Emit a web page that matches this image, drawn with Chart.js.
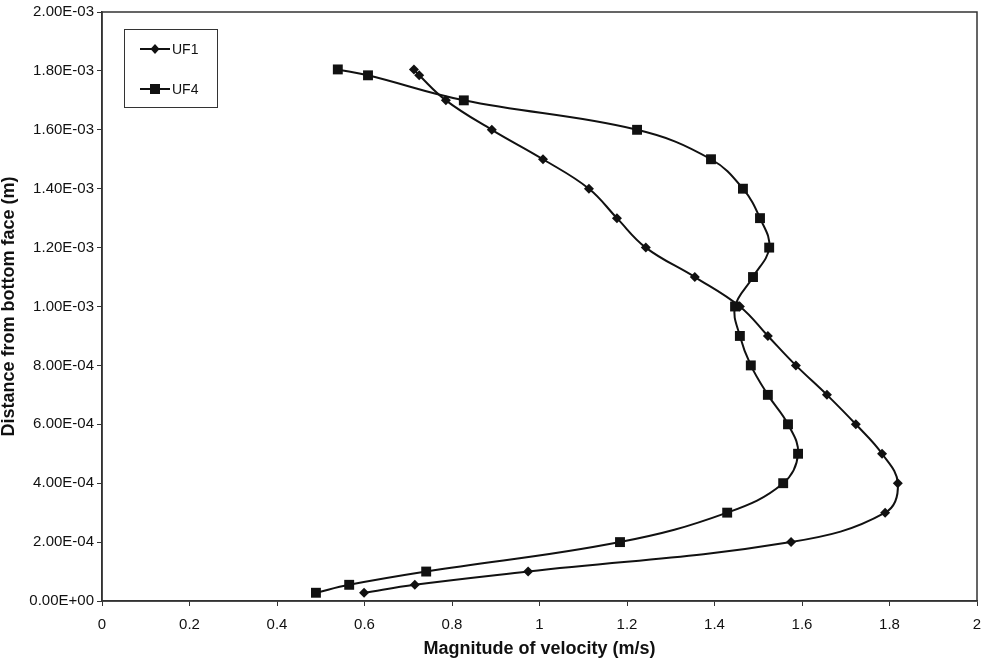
<!DOCTYPE html>
<html lang="en">
<head>
    <meta charset="UTF-8">
    <title>Velocity profile UF1 / UF4</title>
    <script src="https://cdn.jsdelivr.net/npm/chart.js"></script>
    <style>
        body {
            margin: 0;
            background: white;
        }
    </style>
</head>
<body>
    <canvas id="profileChart" width="985" height="668"></canvas>

    <script>
        // distance from bottom face (m), shared by both series
        const depth = [0.028e-3, 0.055e-3, 0.1e-3, 0.2e-3, 0.3e-3, 0.4e-3, 0.5e-3, 0.6e-3, 0.7e-3,
            0.8e-3, 0.9e-3, 1.0e-3, 1.1e-3, 1.2e-3, 1.3e-3, 1.4e-3, 1.5e-3, 1.6e-3, 1.7e-3,
            1.785e-3, 1.805e-3];
        // magnitude of velocity (m/s)
        const uf1 = [0.599, 0.715, 0.974, 1.575, 1.790, 1.819, 1.783, 1.723, 1.657, 1.586, 1.522,
            1.458, 1.355, 1.243, 1.177, 1.113, 1.008, 0.891, 0.786, 0.725, 0.713];
        const uf4 = [0.489, 0.565, 0.741, 1.184, 1.429, 1.557, 1.591, 1.568, 1.522, 1.483, 1.458,
            1.447, 1.488, 1.525, 1.504, 1.465, 1.392, 1.223, 0.827, 0.608, 0.539];
        const seriesNames = ['UF1', 'UF4'];

        const font = "'Liberation Sans', Arial, sans-serif";

        function toPoints(xs) {
            return xs.map((v, i) => ({ x: v, y: depth[i] }));
        }

        // Excel style: 2.00E-03, 0.00E+00
        function sciLabel(v) {
            if (Math.abs(v) < 1e-12) return '0.00E+00';
            let [m, e] = v.toExponential(2).toUpperCase().split('E');
            let sign = e[0] === '-' ? '-' : '+';
            let digits = e.replace(/[+-]/, '').padStart(2, '0');
            return m + 'E' + sign + digits;
        }

        function drawMarker(ctx, style, x, y) {
            ctx.beginPath();
            if (style === 'rect') {
                ctx.rect(x - 5, y - 5, 10, 10);
            } else {
                ctx.moveTo(x, y - 5);
                ctx.lineTo(x + 4.5, y);
                ctx.lineTo(x, y + 5);
                ctx.lineTo(x - 4.5, y);
                ctx.closePath();
            }
            ctx.fill();
        }

        // boxed legend inside the plot + frame around the plot area
        const frameAndLegend = {
            id: 'frameAndLegend',
            afterDraw(chart) {
                const ctx = chart.ctx;
                const a = chart.chartArea;
                ctx.save();
                ctx.strokeStyle = '#333';
                ctx.lineWidth = 1.5;
                ctx.strokeRect(a.left, a.top, a.right - a.left, a.bottom - a.top);

                ctx.lineWidth = 1;
                ctx.strokeRect(124.5, 29.5, 93, 78);
                ctx.font = '14px ' + font;
                ctx.textBaseline = 'middle';
                ctx.fillStyle = '#111';
                const rows = [49, 89];
                chart.data.datasets.forEach((ds, i) => {
                    const y = rows[i];
                    ctx.strokeStyle = '#111';
                    ctx.lineWidth = 2;
                    ctx.beginPath();
                    ctx.moveTo(140, y);
                    ctx.lineTo(170, y);
                    ctx.stroke();
                    drawMarker(ctx, ds.pointStyle, 155, y);
                    ctx.fillText(ds.label, 172, y + 1);
                });
                ctx.restore();
            }
        };

        const ctx = document.getElementById('profileChart').getContext('2d');
        new Chart(ctx, {
            type: 'scatter',
            data: {
                datasets: [{
                    label: seriesNames[0],
                    data: toPoints(uf1),
                    showLine: true,
                    tension: 0.4,
                    borderColor: '#111',
                    backgroundColor: '#111',
                    borderWidth: 2,
                    pointStyle: 'rectRot',
                    pointRadius: 5,
                    pointBorderWidth: 0
                }, {
                    label: seriesNames[1],
                    data: toPoints(uf4),
                    showLine: true,
                    tension: 0.4,
                    borderColor: '#111',
                    backgroundColor: '#111',
                    borderWidth: 2,
                    pointStyle: 'rect',
                    pointRadius: 7,
                    pointBorderWidth: 0
                }]
            },
            options: {
                responsive: false,
                animation: false,
                layout: { padding: { top: 10, right: 0, left: 0, bottom: 0 } },
                plugins: {
                    legend: { display: false },
                    tooltip: { enabled: false }
                },
                scales: {
                    x: {
                        type: 'linear',
                        min: 0,
                        max: 2,
                        afterFit: s => { s.height = 67; s.paddingRight = 8; },
                        ticks: {
                            stepSize: 0.2,
                            padding: 10,
                            color: '#111',
                            font: { family: font, size: 15 },
                            callback: v => String(Math.round(v * 10) / 10)
                        },
                        grid: { drawOnChartArea: false, tickLength: 5, color: '#333' },
                        border: { color: '#333', width: 1.5 },
                        title: {
                            display: true,
                            text: 'Magnitude of velocity (m/s)',
                            color: '#111',
                            font: { family: font, size: 18, weight: 'bold', lineHeight: 1 },
                            padding: { top: 0, bottom: 10 }
                        }
                    },
                    y: {
                        type: 'linear',
                        min: 0,
                        max: 0.002,
                        afterFit: s => { s.width = 102; },
                        ticks: {
                            stepSize: 0.0002,
                            padding: 3,
                            color: '#111',
                            font: { family: font, size: 15 },
                            callback: v => sciLabel(v)
                        },
                        grid: { drawOnChartArea: false, tickLength: 5, color: '#333' },
                        border: { color: '#333', width: 1.5 },
                        title: {
                            display: true,
                            text: 'Distance from bottom face (m)',
                            color: '#111',
                            font: { family: font, size: 18, weight: 'bold', lineHeight: 1 },
                            padding: { top: 0, bottom: 0 }
                        }
                    }
                }
            },
            plugins: [frameAndLegend]
        });
    </script>
</body>
</html>
